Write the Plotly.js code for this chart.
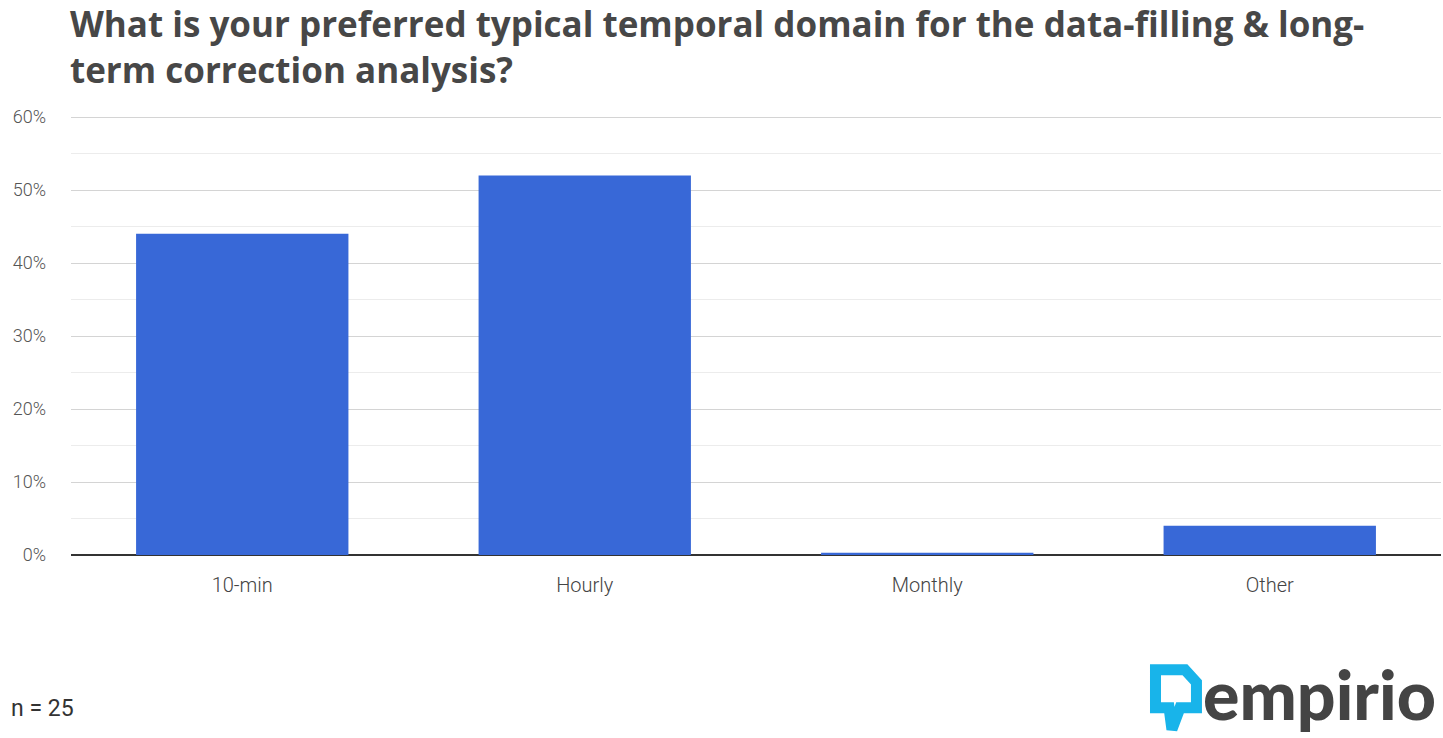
<!DOCTYPE html>
<html>
<head>
<meta charset="utf-8">
<script src="https://cdn.plot.ly/plotly-3.0.1.min.js"></script>
<style>
  html, body { margin: 0; padding: 0; background: #fff; }
  #chart { width: 1443px; height: 738px; }
</style>
</head>
<body>
<div id="chart"></div>
<script>
const CATEGORIES = ["10-min", "Hourly", "Monthly", "Other"];
const SHARES = [44, 52, 0.3, 4];
const Y_TICKS = [0, 10, 20, 30, 40, 50, 60];
const Y_TICK_LABELS = Y_TICKS.map(v => v + "%");

const DIV = document.querySelector("#chart");

// plot area in pixels, used to put the logo outside it
const L = 71, R = 1441, T = 117, B = 555;
const px = x => (x - L) / (R - L);
const py = y => (B - y) / (B - T);

function logoPath(pts) {
    return pts.map((p, i) => (i ? "L" : "M") + px(p[0]).toFixed(4) + "," + py(p[1]).toFixed(4)).join(" ") + " Z";
}

let bars = {
    type: "bar",
    x: CATEGORIES,
    y: SHARES,
    marker: { color: "#3868d7" },
    hoverinfo: "x+y"
};

let layout = {
    width: 1443,
    height: 738,
    margin: { l: L, r: 1443 - R, t: T - 1, b: 738 - B },
    paper_bgcolor: "#fff",
    plot_bgcolor: "#fff",
    bargap: 0.38,
    showlegend: false,
    title: {
        text: "What is your preferred typical temporal domain for the data-filling & long-<br>term correction analysis?",
        x: 70 / 1443,
        xanchor: "left",
        y: 1 - 37 / 738,
        yanchor: "middle",
        font: { family: "Open Sans", size: 35, color: "#474747", weight: 700 }
    },
    xaxis: {
        type: "category",
        showgrid: false,
        showline: false,
        ticks: "",
        ticklabelstandoff: 16,
        tickfont: { family: "Roboto", size: 20, color: "#444", weight: 300 },
        fixedrange: true
    },
    yaxis: {
        range: [0, 60.15],
        tickvals: Y_TICKS,
        ticktext: Y_TICK_LABELS,
        showgrid: true,
        gridcolor: "#d4d4d4",
        gridwidth: 1,
        minor: { dtick: 5, showgrid: true, gridcolor: "#ececec", gridwidth: 1 },
        zeroline: true,
        zerolinecolor: "#333",
        zerolinewidth: 1.5,
        showline: false,
        ticks: "",
        ticklabelstandoff: 24,
        tickfont: { family: "Roboto", size: 18, color: "#555", weight: 300 },
        fixedrange: true
    },
    shapes: [
        {
            type: "path",
            xref: "paper",
            yref: "paper",
            path: logoPath([[1155.5, 669.5], [1185, 669.5], [1196.5, 682], [1196.5, 707.5], [1180, 707.5], [1172, 729], [1169, 707.5], [1155.5, 707.5]]),
            line: { color: "#18b4ea", width: 11 },
            fillcolor: "rgba(0,0,0,0)"
        }
    ],
    annotations: [
        {
            text: "n = 25",
            xref: "paper",
            yref: "paper",
            x: px(9),
            y: py(708),
            xanchor: "left",
            yanchor: "middle",
            showarrow: false,
            font: { family: "Roboto", size: 23, color: "#333" }
        },
        {
            text: "empirio",
            xref: "paper",
            yref: "paper",
            x: px(1201),
            y: py(693),
            xanchor: "left",
            yanchor: "middle",
            showarrow: false,
            font: { family: "Lato", size: 68, color: "#444", weight: 900 }
        }
    ]
};

Plotly.newPlot(DIV, [bars], layout, { displayModeBar: false, responsive: false });
</script>
</body>
</html>
